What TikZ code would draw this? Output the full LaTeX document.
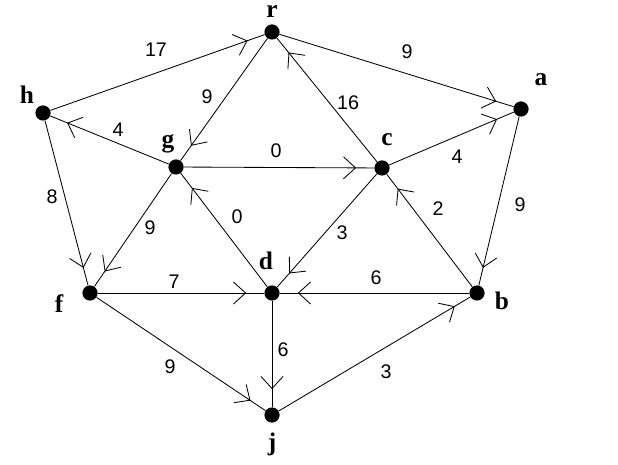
\documentclass[tikz,border=0pt]{standalone}
\usepackage{fontspec}
\setmainfont{Liberation Serif}
\newfontfamily\wtfont{Liberation Sans}
\usetikzlibrary{arrows.meta,decorations.markings}

\begin{document}
\begin{tikzpicture}[
  x=0.025cm, y=-0.025cm,
  vertex/.style={circle,fill=black,inner sep=0pt,minimum size=0.38cm},
  vname/.style={font=\fontsize{18}{18}\selectfont\bfseries,inner sep=0pt},
  wt/.style={font=\wtfont\fontsize{14}{14}\selectfont,inner sep=0pt},
  edge/.style={line width=0.6pt,postaction={decorate},
    decoration={markings,mark=at position -0.45cm with
      {\arrow{Straight Barb[length=0.3cm,width=0.55cm,line width=0.6pt]}}}}
]
\useasboundingbox (0,0) rectangle (618,465);

\foreach \n/\x/\y/\lx/\ly in {
  r/272/32/272/12,
  h/43/113/27/95,
  a/521/109/541/80,
  g/176/167/168/144,
  c/382/168/387/140,
  f/90/293/59/304,
  d/272/293/266/261,
  b/477/293/502/301,
  j/272/415/272/444}
  {
    \node[vertex] (\n) at (\x,\y) {};
    \node[vname] (l\n) at (\lx,\ly) {\n};
  }

\foreach \s/\t/\w/\x/\y in {
  h/r/17/156/50,
  r/a/9/407/52,
  r/g/9/207/97,
  c/r/16/348/103,
  g/h/4/118/130,
  g/c/0/276/151,
  c/a/4/457/157,
  a/b/9/520/205,
  h/f/8/52/197,
  g/f/9/150/228,
  d/g/0/237/217,
  c/d/3/342/233,
  b/c/2/438/209,
  f/d/7/174/282,
  b/d/6/376/278,
  d/j/6/283/350,
  f/j/9/170/367,
  j/b/3/386/372}
  {
    \draw[edge] (\s) -- (\t);
    \node[wt] (w\s\t) at (\x,\y) {\w};
  }
\end{tikzpicture}
\end{document}
